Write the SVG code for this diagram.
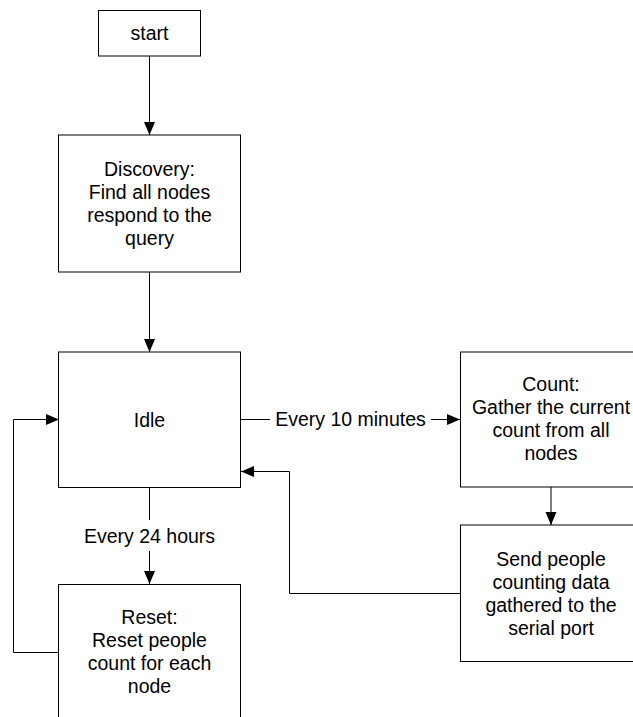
<svg xmlns="http://www.w3.org/2000/svg" width="633" height="717" viewBox="0 0 633 717">
<style>
.box{fill:#fff;stroke:#000;stroke-width:1}
.t{font-family:"Liberation Sans",Arial,sans-serif;font-size:19.5px;fill:#000;text-anchor:middle}
.c{fill:none;stroke:#000;stroke-width:1}
</style>
<defs>
<marker id="ah" markerUnits="userSpaceOnUse" markerWidth="14" markerHeight="12" refX="13" refY="6" orient="auto">
<path d="M0,0.5 L13,6 L0,11.5 Z" fill="#000"/>
</marker>
</defs>
<rect width="633" height="717" fill="#fff"/>
<g id="connectors">
<line class="c" x1="149.5" y1="56" x2="149.5" y2="135" marker-end="url(#ah)"/>
<line class="c" x1="149.5" y1="272" x2="149.5" y2="352" marker-end="url(#ah)"/>
<line class="c" x1="241" y1="419.5" x2="270" y2="419.5"/>
<line class="c" x1="431" y1="419.5" x2="460" y2="419.5" marker-end="url(#ah)"/>
<line class="c" x1="551" y1="487" x2="551" y2="525" marker-end="url(#ah)"/>
<polyline class="c" points="460,593.5 289.5,593.5 289.5,471.5 241,471.5" marker-end="url(#ah)"/>
<line class="c" x1="149.5" y1="488" x2="149.5" y2="520"/>
<line class="c" x1="149.5" y1="551" x2="149.5" y2="584" marker-end="url(#ah)"/>
<polyline class="c" points="59,652.5 13.5,652.5 13.5,419.5 59,419.5" marker-end="url(#ah)"/>
<text class="t" x="350.5" y="426">Every 10 minutes</text>
<text class="t" x="149.5" y="542.5">Every 24 hours</text>
</g>
<g id="start">
<rect class="box" x="98.5" y="10.5" width="102" height="45.5"/>
<text class="t" x="149.5" y="40">start</text>
</g>
<g id="discovery">
<rect class="box" x="58.5" y="135" width="182" height="137"/>
<text class="t" x="149.5" y="175.5">Discovery:</text>
<text class="t" x="149.5" y="198.5">Find all nodes</text>
<text class="t" x="149.5" y="221.5">respond to the</text>
<text class="t" x="149.5" y="244.5">query</text>
</g>
<g id="idle">
<rect class="box" x="58.5" y="352" width="182" height="135.5"/>
<text class="t" x="149.5" y="426.5">Idle</text>
</g>
<g id="count">
<rect class="box" x="460.5" y="352" width="182" height="135"/>
<text class="t" x="551" y="391">Count:</text>
<text class="t" x="551" y="414">Gather the current</text>
<text class="t" x="551" y="437">count from all</text>
<text class="t" x="551" y="460">nodes</text>
</g>
<g id="send">
<rect class="box" x="460.5" y="525" width="182" height="136.5"/>
<text class="t" x="551" y="565.5">Send people</text>
<text class="t" x="551" y="588.5">counting data</text>
<text class="t" x="551" y="611.5">gathered to the</text>
<text class="t" x="551" y="634.5">serial port</text>
</g>
<g id="reset">
<rect class="box" x="58.5" y="584.5" width="182" height="150"/>
<text class="t" x="149.5" y="623.5">Reset:</text>
<text class="t" x="149.5" y="646.5">Reset people</text>
<text class="t" x="149.5" y="669.5">count for each</text>
<text class="t" x="149.5" y="692.5">node</text>
</g>
</svg>
